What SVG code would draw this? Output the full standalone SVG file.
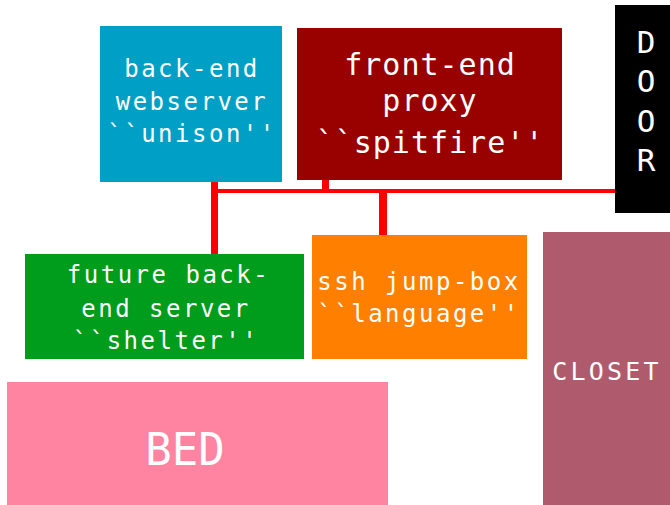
<svg xmlns="http://www.w3.org/2000/svg" width="670" height="505" viewBox="0 0 670 505">
<style>
text { font-family: "DejaVu Sans Mono", "Liberation Mono", monospace; fill: #ffffff; text-anchor: middle; }
.s24 { font-size: 24px; letter-spacing: 2.5px; }
.s30 { font-size: 30px; letter-spacing: 1px; }
.wire { stroke: #ff0000; fill: none; }
</style>
<rect width="670" height="505" fill="#ffffff"/>
<g id="connectors">
<line class="wire" x1="214.5" y1="182" x2="214.5" y2="254" stroke-width="7"/>
<line class="wire" x1="325.5" y1="180" x2="325.5" y2="191" stroke-width="7"/>
<line class="wire" x1="383" y1="191" x2="383" y2="235" stroke-width="8"/>
<line class="wire" x1="211" y1="191" x2="615" y2="191" stroke-width="4"/>
</g>
<g id="unison">
<rect x="100" y="26" width="182" height="156" fill="#00a0c6"/>
<text class="s24" x="192" y="77">back-end</text>
<text class="s24" x="192" y="110">webserver</text>
<text class="s24" x="192" y="142">``unison''</text>
</g>
<g id="spitfire">
<rect x="297" y="28" width="265" height="152" fill="#990000"/>
<text class="s30" x="430" y="75">front-end</text>
<text class="s30" x="430" y="111">proxy</text>
<text class="s30" x="430" y="153">``spitfire''</text>
</g>
<g id="door">
<rect x="615" y="5" width="55" height="208" fill="#000000"/>
<text x="646" y="53" style="font-size:31px">D</text>
<text x="646" y="92" style="font-size:31px">O</text>
<text x="646" y="132" style="font-size:31px">O</text>
<text x="646" y="171" style="font-size:31px">R</text>
</g>
<g id="shelter">
<rect x="25" y="254" width="279" height="105" fill="#009c1c"/>
<text class="s24" x="168.5" y="283">future back-</text>
<text class="s24" x="166" y="317">end server</text>
<text class="s24" x="166" y="349">``shelter''</text>
</g>
<g id="language">
<rect x="312" y="235" width="215" height="124" fill="#ff8000"/>
<text class="s24" x="419" y="290">ssh jump-box</text>
<text class="s24" x="419" y="322">``language''</text>
</g>
<g id="closet">
<rect x="543" y="232" width="127" height="273" fill="#b05a6e"/>
<text x="607" y="380" style="font-size:25px;letter-spacing:3.2px">CLOSET</text>
</g>
<g id="bed">
<rect x="7" y="382" width="381" height="123" fill="#ff84a1"/>
<text x="185" y="465" style="font-size:44px">BED</text>
</g>
</svg>
